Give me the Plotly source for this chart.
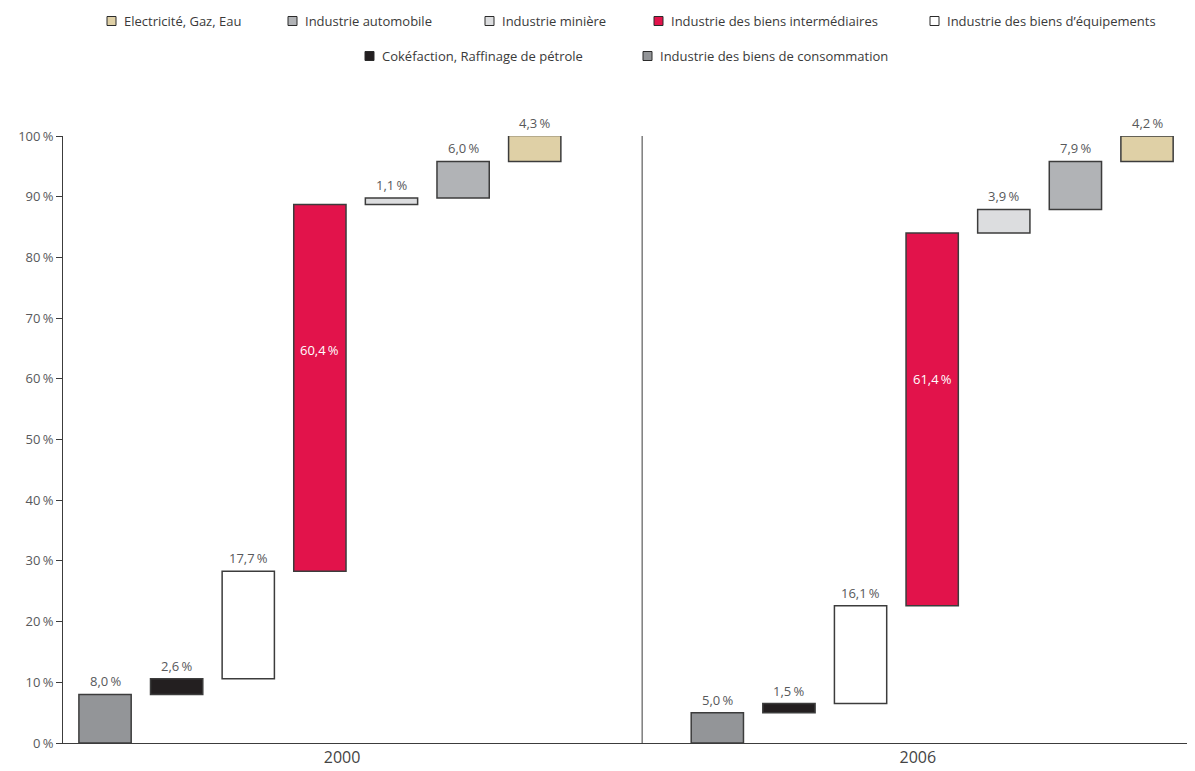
import plotly.graph_objects as go

years = ["2000", "2006"]
sectors = [
    "Industrie des biens de consommation",
    "Cokéfaction, Raffinage de pétrole",
    "Industrie des biens d’équipements",
    "Industrie des biens intermédiaires",
    "Industrie minière",
    "Industrie automobile",
    "Electricité, Gaz, Eau",
]
share_2000 = [8.0, 2.6, 17.7, 60.4, 1.1, 6.0, 4.3]
share_2006 = [5.0, 1.5, 16.1, 61.4, 3.9, 7.9, 4.2]
colors = ["#939598", "#231f20", "#ffffff", "#e2134b", "#dcdddf", "#b1b3b6", "#dfd0a6"]
y_ticks = [0, 10, 20, 30, 40, 50, 60, 70, 80, 90, 100]

# ---- layout constants (page pixels) ----
W, H = 1195, 771
BODY = 8                      # browser body margin
PL, PR, PT, PB = 63, 1195, 136, 743   # plot area on the page
GROUP_STEP = 8.55
BAR_W = 0.73
X_RANGE = [-0.587, 15.22]
Y_MAX = 100
FONT = "Open Sans"
TXT = "#58595b"
OUTLINE = "#3c3c3c"

# custom legend slots: sector -> (swatch left px, row centre px)
LEGEND_SLOTS = {
    "Electricité, Gaz, Eau": (107, 21),
    "Industrie automobile": (288, 21),
    "Industrie minière": (485, 21),
    "Industrie des biens intermédiaires": (654, 21),
    "Industrie des biens d’équipements": (930, 21),
    "Cokéfaction, Raffinage de pétrole": (365, 56),
    "Industrie des biens de consommation": (643, 56),
}


def px_x(p):
    return (p - PL) / (PR - PL)


def px_y(p):
    return (PB - p) / (PB - PT)


def fmt(v):
    return f"{v:.1f}".replace(".", ",") + "\u2009%"


shares = [share_2000, share_2006]
bases = []
for s in shares:
    acc, b = 0.0, []
    for v in s:
        b.append(acc)
        acc += v
    bases.append(b)

fig = go.Figure()
annotations = []
shapes = []
for i, name in enumerate(sectors):
    xs = [g * GROUP_STEP + i for g in range(len(years))]
    ys = [shares[g][i] for g in range(len(years))]
    bs = [bases[g][i] for g in range(len(years))]
    inside = i == 3
    fig.add_trace(go.Bar(
        x=xs, y=ys, base=bs, name=name, width=BAR_W,
        marker=dict(color=colors[i], line=dict(color=OUTLINE, width=1.5)),
        cliponaxis=False, showlegend=False, hoverinfo="skip",
    ))
    for x, y, b in zip(xs, ys, bs):
        if inside:
            annotations.append(dict(
                x=x, y=b + y - 24, text=fmt(y), showarrow=False,
                font=dict(family=FONT, size=13, color="white"),
            ))
        else:
            top = min(round(b + y, 6), Y_MAX - 1e-6)
            annotations.append(dict(
                x=x, y=top, text=fmt(y), showarrow=False,
                yanchor="bottom", yshift=2,
                font=dict(family=FONT, size=13, color=TXT),
            ))
    # legend entry
    sx, sy = LEGEND_SLOTS[name]
    shapes.append(dict(
        type="rect", xref="paper", yref="paper",
        x0=px_x(sx), x1=px_x(sx + 9), y0=px_y(sy + 4.5), y1=px_y(sy - 4.5),
        fillcolor=colors[i], line=dict(color="#2b2b2b", width=1),
    ))
    annotations.append(dict(
        xref="paper", yref="paper", x=px_x(sx + 15), y=px_y(sy),
        xanchor="left", yanchor="middle", text=name, showarrow=False,
        font=dict(family=FONT, size=13, color="#3a3a3a"),
    ))

# divider between the two years
shapes.append(dict(type="line", xref="x", yref="y",
                   x0=GROUP_STEP - 1.05, x1=GROUP_STEP - 1.05, y0=0, y1=Y_MAX,
                   line=dict(color=OUTLINE, width=1)))

fig.update_layout(
    width=W - BODY, height=H - BODY,
    margin=dict(l=PL - BODY, r=0, t=PT - BODY, b=H - PB),
    plot_bgcolor="white", paper_bgcolor="white",
    font=dict(family=FONT, size=13, color=TXT),
    showlegend=False,
    barmode="overlay",
    annotations=annotations,
    shapes=shapes,
    xaxis=dict(
        range=X_RANGE, showgrid=False, zeroline=False,
        showline=True, linecolor=OUTLINE, linewidth=1,
        tickmode="array", tickvals=[3.31, GROUP_STEP + 2.8], ticktext=years,
        ticks="", tickfont=dict(family=FONT, size=16, color="#444444"),
    ),
    yaxis=dict(
        range=[0, Y_MAX], showgrid=False, zeroline=False,
        showline=True, linecolor=OUTLINE, linewidth=1,
        tickmode="array", tickvals=y_ticks,
        ticktext=[f"{t}\u2009%" for t in y_ticks],
        ticks="outside", ticklen=6, tickcolor=OUTLINE,
        tickfont=dict(family=FONT, size=13, color=TXT),
    ),
)

fig.write_html("out.html")
